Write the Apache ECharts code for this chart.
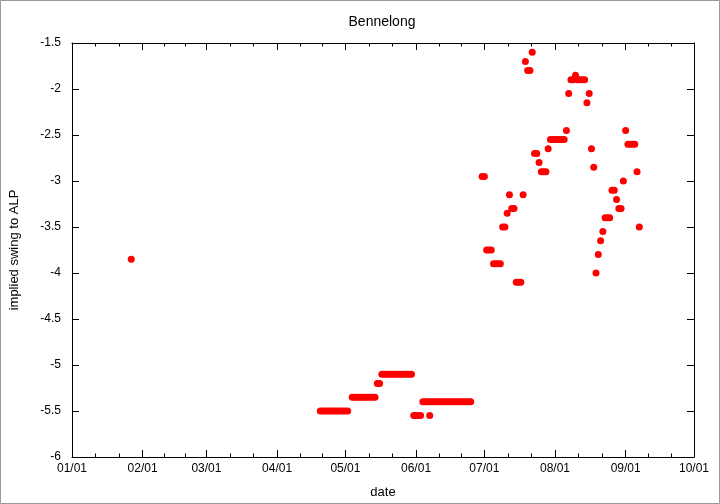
<!DOCTYPE html>
<html>
<head>
<meta charset="utf-8">
<script src="https://cdn.jsdelivr.net/npm/echarts@6/dist/echarts.min.js"></script>
<style>
html,body{margin:0;padding:0;background:#fff;}
#chart{width:720px;height:504px;}
</style>
</head>
<body>
<div id="chart"></div>
<script>
// ---- data ----
var chartTitle = 'Bennelong';
var xName = 'date';
var yName = 'implied swing to ALP';
var monthStarts = ['2013-01-01','2013-02-01','2013-03-01','2013-04-01','2013-05-01','2013-06-01','2013-07-01','2013-08-01','2013-09-01','2013-10-01'];
var yTicks = [-6, -5.5, -5, -4.5, -4, -3.5, -3, -2.5, -2, -1.5];

var janPoints = [['2013-01-27', -3.85]];
var aprPoints = [
  ['2013-04-20',-5.5],['2013-04-21',-5.5],['2013-04-22',-5.5],['2013-04-23',-5.5],['2013-04-24',-5.5],
  ['2013-04-25',-5.5],['2013-04-26',-5.5],['2013-04-27',-5.5],['2013-04-28',-5.5],['2013-04-29',-5.5],
  ['2013-04-30',-5.5]
];
var mayPoints = [
  ['2013-05-01',-5.5],['2013-05-02',-5.5],
  ['2013-05-04',-5.35],['2013-05-05',-5.35],['2013-05-06',-5.35],['2013-05-07',-5.35],['2013-05-08',-5.35],
  ['2013-05-09',-5.35],['2013-05-10',-5.35],['2013-05-11',-5.35],['2013-05-12',-5.35],['2013-05-13',-5.35],
  ['2013-05-14',-5.35],
  ['2013-05-15',-5.2],['2013-05-16',-5.2],
  ['2013-05-17',-5.1],['2013-05-18',-5.1],['2013-05-19',-5.1],['2013-05-20',-5.1],['2013-05-21',-5.1],
  ['2013-05-22',-5.1],['2013-05-23',-5.1],['2013-05-24',-5.1],['2013-05-25',-5.1],['2013-05-26',-5.1],
  ['2013-05-27',-5.1],['2013-05-28',-5.1],['2013-05-29',-5.1],['2013-05-30',-5.1],
  ['2013-05-31',-5.55]
];
var junPoints = [
  ['2013-06-01',-5.55],['2013-06-02',-5.55],['2013-06-03',-5.55],
  ['2013-06-04',-5.4],['2013-06-05',-5.4],['2013-06-06',-5.4],['2013-06-07',-5.4],['2013-06-08',-5.4],
  ['2013-06-09',-5.4],['2013-06-10',-5.4],['2013-06-11',-5.4],['2013-06-12',-5.4],['2013-06-13',-5.4],
  ['2013-06-14',-5.4],['2013-06-15',-5.4],['2013-06-16',-5.4],['2013-06-17',-5.4],['2013-06-18',-5.4],
  ['2013-06-19',-5.4],['2013-06-20',-5.4],['2013-06-21',-5.4],['2013-06-22',-5.4],['2013-06-23',-5.4],
  ['2013-06-24',-5.4],['2013-06-25',-5.4],
  ['2013-06-07',-5.55],
  ['2013-06-30',-2.95]
];
var julPoints = [
  ['2013-07-01',-2.95],
  ['2013-07-02',-3.75],['2013-07-03',-3.75],['2013-07-04',-3.75],
  ['2013-07-05',-3.9],['2013-07-06',-3.9],['2013-07-07',-3.9],['2013-07-08',-3.9],
  ['2013-07-09',-3.5],['2013-07-10',-3.5],
  ['2013-07-11',-3.35],
  ['2013-07-12',-3.15],
  ['2013-07-13',-3.3],['2013-07-14',-3.3],
  ['2013-07-15',-4.1],['2013-07-16',-4.1],['2013-07-17',-4.1],
  ['2013-07-18',-3.15],
  ['2013-07-19',-1.7],
  ['2013-07-20',-1.8],['2013-07-21',-1.8],
  ['2013-07-22',-1.6],
  ['2013-07-23',-2.7],['2013-07-24',-2.7],
  ['2013-07-25',-2.8],
  ['2013-07-26',-2.9],['2013-07-27',-2.9],['2013-07-28',-2.9],
  ['2013-07-29',-2.65],
  ['2013-07-30',-2.55],['2013-07-31',-2.55]
];
var augPoints = [
  ['2013-08-01',-2.55],['2013-08-02',-2.55],['2013-08-03',-2.55],['2013-08-04',-2.55],['2013-08-05',-2.55],
  ['2013-08-06',-2.45],
  ['2013-08-07',-2.05],
  ['2013-08-08',-1.9],['2013-08-09',-1.9],['2013-08-10',-1.85],['2013-08-11',-1.9],['2013-08-12',-1.9],
  ['2013-08-13',-1.9],['2013-08-14',-1.9],
  ['2013-08-15',-2.15],
  ['2013-08-16',-2.05],
  ['2013-08-17',-2.65],
  ['2013-08-18',-2.85],
  ['2013-08-19',-4.0],
  ['2013-08-20',-3.8],
  ['2013-08-21',-3.65],
  ['2013-08-22',-3.55],
  ['2013-08-23',-3.4],['2013-08-24',-3.4],['2013-08-25',-3.4],
  ['2013-08-26',-3.1],['2013-08-27',-3.1],
  ['2013-08-28',-3.2],
  ['2013-08-29',-3.3],['2013-08-30',-3.3],
  ['2013-08-31',-3.0]
];
var sepPoints = [
  ['2013-09-01',-2.45],
  ['2013-09-02',-2.6],['2013-09-03',-2.6],['2013-09-04',-2.6],['2013-09-05',-2.6],
  ['2013-09-06',-2.9],
  ['2013-09-07',-3.5]
];

// ---- build ----
function ts(s){ var p = s.split('-'); return Date.UTC(+p[0], +p[1]-1, +p[2]); }
function pad(n){ return (n < 10 ? '0' : '') + n; }
function fmtDate(v){ var d = new Date(v); return pad(d.getUTCMonth()+1) + '/' + pad(d.getUTCDate()); }

var allPoints = [].concat(janPoints, aprPoints, mayPoints, junPoints, julPoints, augPoints, sepPoints)
  .map(function(p){ return [ts(p[0]), p[1]]; });

var majorTicks = monthStarts.map(ts);
var minorTicks = [];
for (var i = 0; i < majorTicks.length - 1; i++) {
  var a = majorTicks[i], b = majorTicks[i+1];
  minorTicks.push(a + (b - a) / 3, a + 2 * (b - a) / 3);
}
var xMin = majorTicks[0], xMax = majorTicks[majorTicks.length - 1];
var FONT = '"Liberation Sans", Arial, Helvetica, sans-serif';
var lineStyle = { color: '#000', width: 1 };

var chart = echarts.init(document.getElementById('chart'), null, { renderer: 'canvas' });
chart.setOption({
  animation: false,
  backgroundColor: '#fff',
  grid: { left: 70, right: 26, top: 43, bottom: 46, containLabel: false },
  graphic: [
    { type: 'rect', shape: { x: 0.5, y: 0.5, width: 719, height: 503 },
      style: { fill: 'none', stroke: '#999', lineWidth: 1 }, silent: true },
    { type: 'text', x: 382, y: 22,
      style: { text: chartTitle, align: 'center', verticalAlign: 'middle',
               fontSize: 14, fontFamily: FONT, fill: '#000' }, silent: true }
  ],
  xAxis: [
    { type: 'value', position: 'bottom', min: xMin, max: xMax,
      name: xName, nameLocation: 'middle', nameGap: 29,
      nameTextStyle: { fontSize: 13, fontFamily: FONT, color: '#000' },
      axisLine: { show: true, lineStyle: lineStyle },
      axisTick: { show: true, inside: true, length: 7, lineStyle: lineStyle, customValues: majorTicks },
      axisLabel: { show: true, margin: 6, fontSize: 12, fontFamily: FONT, color: '#000',
                   customValues: majorTicks, formatter: fmtDate, showMinLabel: true, showMaxLabel: true },
      splitLine: { show: false } },
    { type: 'value', position: 'top', min: xMin, max: xMax,
      axisLine: { show: true, lineStyle: lineStyle },
      axisTick: { show: true, inside: true, length: 7, lineStyle: lineStyle, customValues: majorTicks },
      axisLabel: { show: false }, splitLine: { show: false } },
    { type: 'value', position: 'bottom', min: xMin, max: xMax,
      axisLine: { show: false },
      axisTick: { show: true, inside: true, length: 3.5, lineStyle: lineStyle, customValues: minorTicks },
      axisLabel: { show: false }, splitLine: { show: false } },
    { type: 'value', position: 'top', min: xMin, max: xMax,
      axisLine: { show: false },
      axisTick: { show: true, inside: true, length: 3.5, lineStyle: lineStyle, customValues: minorTicks },
      axisLabel: { show: false }, splitLine: { show: false } }
  ],
  yAxis: [
    { type: 'value', position: 'left', min: yTicks[0], max: yTicks[yTicks.length-1], interval: 0.5,
      name: yName, nameLocation: 'middle', nameGap: 51, nameRotate: 90,
      nameTextStyle: { fontSize: 13, fontFamily: FONT, color: '#000' },
      axisLine: { show: true, lineStyle: lineStyle },
      axisTick: { show: true, inside: true, length: 7, lineStyle: lineStyle },
      axisLabel: { show: true, margin: 11, fontSize: 12, fontFamily: FONT, color: '#000' },
      splitLine: { show: false } },
    { type: 'value', position: 'right', min: yTicks[0], max: yTicks[yTicks.length-1], interval: 0.5,
      axisLine: { show: true, lineStyle: lineStyle },
      axisTick: { show: true, inside: true, length: 7, lineStyle: lineStyle },
      axisLabel: { show: false }, splitLine: { show: false } }
  ],
  series: [
    { type: 'scatter', xAxisIndex: 0, yAxisIndex: 0, data: allPoints,
      symbol: 'circle', symbolSize: 7, itemStyle: { color: '#ff0000', opacity: 1 }, silent: true }
  ]
});
</script>
</body>
</html>
